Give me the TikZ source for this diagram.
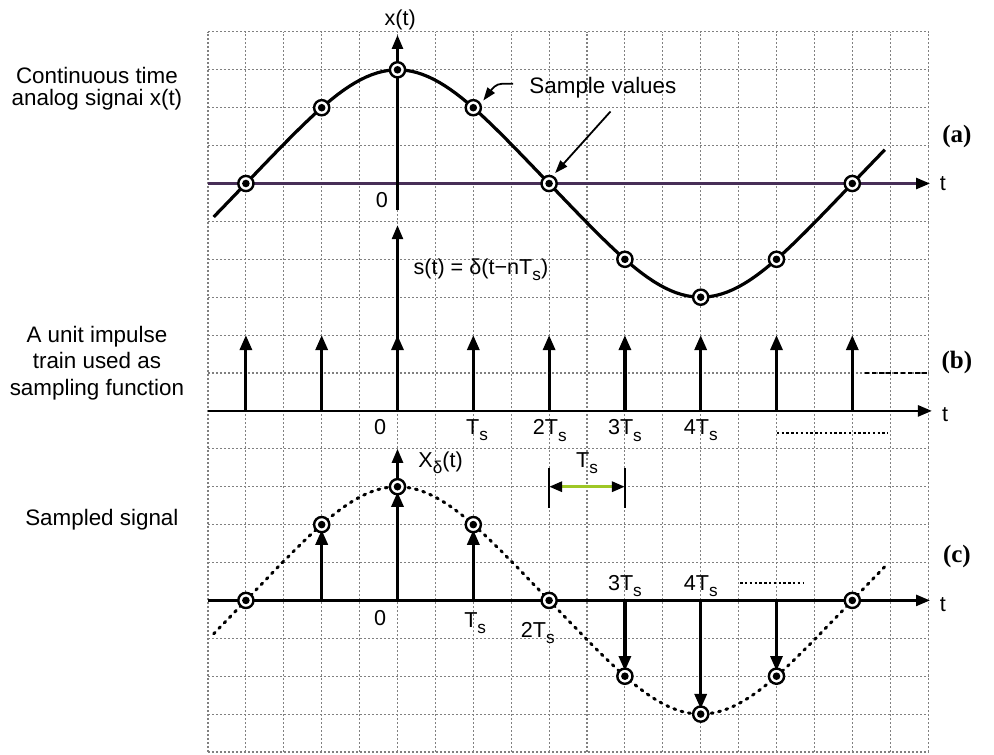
\documentclass[tikz,border=0pt]{standalone}
\usepackage{fontspec}
\setmainfont{Liberation Sans}
\newfontfamily\serifbold{Liberation Serif}
\usetikzlibrary{arrows.meta}
\definecolor{gridc}{gray}{0.5}
\definecolor{axisa}{rgb}{0.28,0.18,0.34}
\definecolor{dimgreen}{rgb}{0.62,0.78,0.15}
\newcommand{\Tsub}{T\raisebox{-0.55ex}{\fontsize{8.6}{9}\selectfont s}}
\begin{document}
\begin{tikzpicture}[x=18.95pt,y=18.95pt,
  gridline/.style={gridc, line width=0.55pt, dash pattern=on 0.8pt off 1.2pt},
  axisline/.style={line width=1.3pt, -{Triangle[length=7pt,width=5.5pt]}},
  stemline/.style={line width=1.6pt, -{Triangle[length=7.5pt,width=6pt]}},
  curveline/.style={line width=1.6pt},
  dotcurve/.style={line width=1.5pt, dash pattern=on 1pt off 2.8pt, line cap=round},
  lab/.style={font=\fontsize{10.8}{12}\selectfont, inner sep=0pt},
  sidelab/.style={font=\fontsize{11.2}{11.2}\selectfont, align=center, inner sep=0pt},
  partlab/.style={font=\serifbold\bfseries\fontsize{12.5}{14}\selectfont, inner sep=0pt},
  pointer/.style={line width=0.9pt, -{Triangle[length=6.5pt,width=4.5pt]}},
  samp/.pic={\draw[line width=1.2pt, fill=white] (0,0) circle (3.8pt); \fill (0,0) circle (1.9pt);}
]
\useasboundingbox (-5.488,-0.053) rectangle (20.739,19.842);
% grid
\draw[gridline, step=1] (0,0) grid (19,19);
% sample coordinates
\foreach \i/\x/\v in {1/1/0,2/3/2,3/5/3,4/7/2,5/9/0,6/11/-2,7/13/-3,8/15/-2,9/17/0}{
  \coordinate (a\i) at (\x,{15+\v});
  \coordinate (c\i) at (\x,{4+\v});
  \coordinate (b\i) at (\x,9);
  \coordinate (bt\i) at (\x,11);
  \coordinate (cb\i) at (\x,4);
}
% ---------- (a) ----------
\coordinate (aL) at (0,15); \coordinate (aR) at (19.05,15);
\coordinate (av0) at (5,14.3); \coordinate (av1) at (5,18.92);
\draw[axisline, draw=axisa, -{Triangle[length=7pt,width=5.5pt,color=black]}] (aL) -- (aR);
\draw[axisline] (av0) -- (av1);
\draw[curveline] plot[domain=0.15:17.86, samples=120] (\x,{15+2.914*sin(22.5*(\x-1)) - 0.086*sin(67.5*(\x-1))});
\foreach \i in {1,...,9} \pic at (a\i) {samp};
\node[lab] (xt) at (5.07,19.31) {x(t)};
\node[lab] (za) at (4.59,14.56) {0};
\node[lab] (ta) at (19.39,14.99) {t};
\node[partlab] (pa) at (19.76,16.23) {(a)};
\node[font=\fontsize{11.2}{12}\selectfont, inner sep=0pt] (sv) at (10.42,17.52) {Sample values};
\coordinate (sv1) at (8.05,17.63);
\coordinate (sv2) at (10.62,16.9);
\draw[pointer] (sv1) -- (7.75,17.63) .. controls (7.6,17.63) and (7.5,17.5) .. ([xshift=5pt,yshift=3.6pt]a4);
\draw[pointer] (sv2) -- ([xshift=3pt,yshift=5.2pt]a5);
\node[sidelab] (la) at (-2.93,17.5) {Continuous time\\analog signai x(t)};
% ---------- (b) ----------
\coordinate (bL) at (0,9); \coordinate (bR) at (19.1,9);
\coordinate (sv0) at (5,9); \coordinate (svt) at (5,13.9);
\draw[axisline] (bL) -- (bR);
\draw[axisline] (sv0) -- (svt);
\foreach \i in {1,...,9} \draw[stemline] (b\i) -- (bt\i);
\node[lab] (st) at (7.2,12.72) {s(t) = δ(t−n\Tsub)};
\node[lab] (tb) at (19.45,8.89) {t};
\node[lab, anchor=north] (b0) at (4.54,8.78) {0};
\node[lab, anchor=north] (b1) at (7.1,8.78) {\Tsub};
\node[lab, anchor=north] (b2) at (9.02,8.78) {2\Tsub};
\node[lab, anchor=north] (b3) at (11.0,8.78) {3\Tsub};
\node[lab, anchor=north] (b4) at (13.0,8.78) {4\Tsub};
\coordinate (bd0) at (15.01,8.42); \coordinate (bd1) at (17.94,8.42);
\draw[line width=0.9pt, dash pattern=on 1.2pt off 1.2pt] (bd0) -- (bd1);
\coordinate (be0) at (17.33,10); \coordinate (be1) at (18.97,10);
\draw[line width=1pt, dash pattern=on 2.2pt off 1.4pt] (be0) -- (be1);
\node[partlab] (pb) at (19.76,10.29) {(b)};
\node[sidelab, font=\fontsize{11.2}{13.4}\selectfont] (lb) at (-2.93,10.26) {A unit impulse\\train used as\\sampling function};
% ---------- (c) ----------
\coordinate (cL) at (0,4); \coordinate (cR) at (19.05,4);
\coordinate (cv0) at (5,4); \coordinate (cv1) at (5,8);
\draw[dotcurve] plot[domain=0.15:17.86, samples=120] (\x,{4+2.914*sin(22.5*(\x-1)) - 0.086*sin(67.5*(\x-1))});
\draw[axisline] (cL) -- (cR);
\draw[axisline] (cv0) -- (cv1);
\foreach \i in {2,3,4} \draw[stemline] (cb\i) -- ([yshift=-2.6pt]c\i);
\foreach \i in {6,7,8} \draw[stemline] (cb\i) -- ([yshift=2.6pt]c\i);
\foreach \i in {1,...,9} \pic at (c\i) {samp};
\node[lab, anchor=west] (xd) at (5.54,7.63) {X\raisebox{-0.55ex}{\fontsize{8.6}{9}\selectfont δ}(t)};
\node[lab] (tc) at (19.39,3.88) {t};
\node[lab, anchor=north] (c0) at (4.54,3.75) {0};
\node[lab, anchor=north] (cT1) at (7.05,3.69) {\Tsub};
\node[lab, anchor=north] (cT2) at (8.7,3.43) {2\Tsub};
\node[lab, anchor=north] (cT3) at (11.0,4.67) {3\Tsub};
\node[lab, anchor=north] (cT4) at (13.0,4.67) {4\Tsub};
\coordinate (cd0) at (14.04,4.46); \coordinate (cd1) at (15.7,4.46);
\draw[line width=0.9pt, dash pattern=on 1.2pt off 1.2pt] (cd0) -- (cd1);
\node[partlab] (pc) at (19.76,5.15) {(c)};
\node[sidelab] (lc) at (-2.8,6.12) {Sampled signal};
% Ts dimension
\coordinate (dL) at (9,7); \coordinate (dR) at (11,7);
\draw[line width=1.2pt] (9,6.45) -- (9,7.5);
\draw[line width=1.2pt] (11,6.45) -- (11,7.5);
\draw[line width=1.5pt, draw=dimgreen, {Triangle[length=6.5pt,width=5pt,color=black]}-{Triangle[length=6.5pt,width=5pt,color=black]}] (dL) -- (dR);
\node[lab] (dT) at (10.0,7.63) {\Tsub};
\end{tikzpicture}
\end{document}
